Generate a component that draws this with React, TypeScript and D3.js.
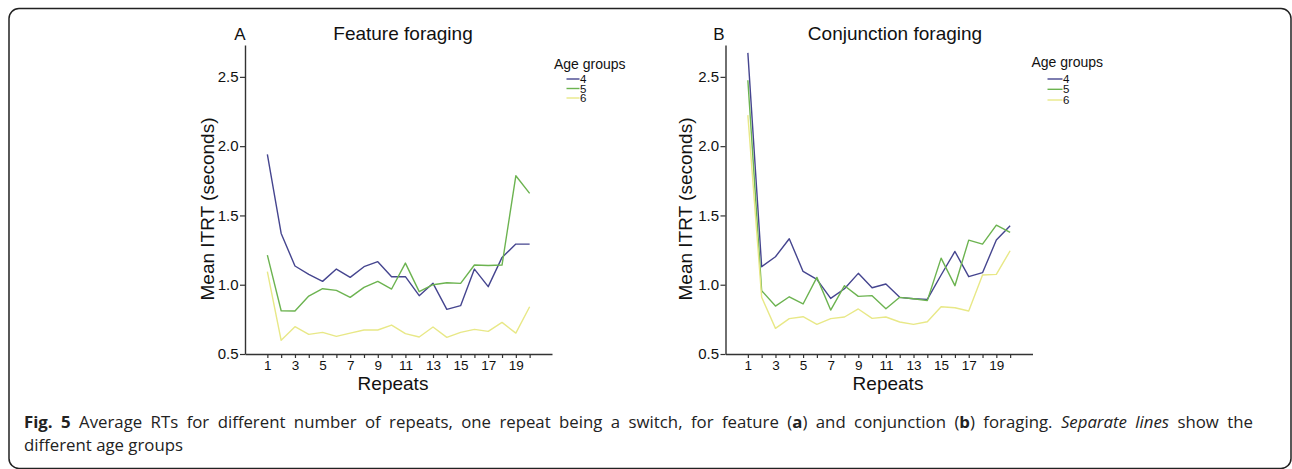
import React, { useRef, useLayoutEffect } from 'react';
import * as d3 from 'd3';

// repeats on the x axis (1..20), odd ones get a label
const repeats = [1, 2, 3, 4, 5, 6, 7, 8, 9, 10, 11, 12, 13, 14, 15, 16, 17, 18, 19, 20];
const xTickLabels = [1, 3, 5, 7, 9, 11, 13, 15, 17, 19];
const yTicks = [0.5, 1.0, 1.5, 2.0, 2.5];
const ageGroups = ['4', '5', '6'];

// mean ITRT (seconds), feature foraging
const featureAge4 = [1.94, 1.37, 1.135, 1.075, 1.024, 1.113, 1.053, 1.13, 1.166, 1.058, 1.058, 0.921, 1.01, 0.822, 0.849, 1.113, 0.986, 1.197, 1.293, 1.293];
const featureAge5 = [1.214, 0.812, 0.81, 0.918, 0.971, 0.959, 0.909, 0.981, 1.024, 0.969, 1.156, 0.95, 1.0, 1.014, 1.01, 1.142, 1.139, 1.142, 1.786, 1.659];
const featureAge6 = [1.094, 0.599, 0.697, 0.642, 0.656, 0.627, 0.651, 0.673, 0.673, 0.709, 0.647, 0.623, 0.695, 0.62, 0.656, 0.678, 0.663, 0.728, 0.651, 0.841];

// mean ITRT (seconds), conjunction foraging
const conjunctionAge4 = [2.673, 1.13, 1.202, 1.332, 1.096, 1.038, 0.901, 0.971, 1.082, 0.978, 1.005, 0.909, 0.899, 0.894, 1.07, 1.24, 1.058, 1.087, 1.322, 1.425];
const conjunctionAge5 = [2.476, 0.957, 0.846, 0.913, 0.861, 1.053, 0.817, 0.993, 0.916, 0.921, 0.827, 0.909, 0.899, 0.885, 1.192, 0.993, 1.322, 1.293, 1.43, 1.377];
const conjunctionAge6 = [2.224, 0.909, 0.685, 0.755, 0.769, 0.714, 0.755, 0.767, 0.825, 0.757, 0.767, 0.731, 0.714, 0.733, 0.841, 0.834, 0.81, 1.07, 1.075, 1.245];

const colors = ['#45458f', '#6cb350', '#e8e887'];
const FONT = '"Liberation Sans", Arial, Helvetica, sans-serif';

const panels = [
    {
        letter: 'A', title: 'Feature foraging', series: [featureAge4, featureAge5, featureAge6],
        left: 245, letterX: 240, titleX: 403, yLabelX: 207, xLabelX: 393,
        legendX: 554, legendY: 69, legendLineX: 566.5, legendLineW: 13, legendRowY: [79, 88.5, 98]
    },
    {
        letter: 'B', title: 'Conjunction foraging', series: [conjunctionAge4, conjunctionAge5, conjunctionAge6],
        left: 725.5, letterX: 719, titleX: 895, yLabelX: 685, xLabelX: 888,
        legendX: 1031.5, legendY: 67, legendLineX: 1047.5, legendLineW: 15, legendRowY: [79, 89.3, 100]
    }
];

const Chart = () => {
    const ref = useRef<SVGSVGElement>(null);

    useLayoutEffect(() => {
        const svg = d3.select(ref.current);
        svg.selectAll('*').remove();

        // page frame (only top/left visible in the crop)
        svg.append('rect')
            .attr('x', 9).attr('y', 8.5)
            .attr('width', 1282).attr('height', 460)
            .attr('rx', 10)
            .attr('fill', 'none')
            .attr('stroke', '#222')
            .attr('stroke-width', 1.5);

        const plotW = 307;
        const top = 45;
        const bottom = 354;

        panels.forEach(p => {
            const g = svg.append('g');

            const x = d3.scaleLinear()
                .domain([-0.62, 21.62])
                .range([p.left, p.left + plotW]);
            const y = d3.scaleLinear()
                .domain([0.5, 2.73])
                .range([bottom, top]);

            // x axis
            const xAxis = g.append('g')
                .attr('transform', 'translate(0,' + bottom + ')')
                .call(d3.axisBottom(x)
                    .tickValues(repeats)
                    .tickFormat((d: any) => xTickLabels.includes(d) ? String(d) : '')
                    .tickSize(4)
                    .tickPadding(2.5)
                    .tickSizeOuter(0));
            xAxis.selectAll('text')
                .style('font-family', FONT)
                .style('font-size', '13.5px')
                .attr('fill', '#111');

            // y axis
            const yAxis = g.append('g')
                .attr('transform', 'translate(' + p.left + ',0)')
                .call(d3.axisLeft(y)
                    .tickValues(yTicks)
                    .tickFormat(d3.format('.1f'))
                    .tickSize(5)
                    .tickPadding(1.5)
                    .tickSizeOuter(0));
            yAxis.selectAll('text')
                .style('font-family', FONT)
                .style('font-size', '15px')
                .attr('fill', '#111');

            [xAxis, yAxis].forEach(a => {
                a.select('.domain').attr('stroke', '#333').attr('stroke-width', 1.4);
                a.selectAll('.tick line').attr('stroke', '#333').attr('stroke-width', 1.2);
            });

            // lines per age group
            const line = d3.line<number>()
                .x((_, i) => x(repeats[i]))
                .y(d => y(d));

            p.series.forEach((s, i) => {
                g.append('path')
                    .datum(s)
                    .attr('fill', 'none')
                    .attr('stroke', colors[i])
                    .attr('stroke-width', 1.4)
                    .attr('stroke-linejoin', 'round')
                    .attr('d', line);
            });

            // panel letter and title
            g.append('text')
                .attr('x', p.letterX).attr('y', 40)
                .attr('text-anchor', 'middle')
                .style('font-family', FONT).style('font-size', '17px')
                .attr('fill', '#111')
                .text(p.letter);
            g.append('text')
                .attr('x', p.titleX).attr('y', 40)
                .attr('text-anchor', 'middle')
                .style('font-family', FONT).style('font-size', '19px')
                .attr('fill', '#111')
                .text(p.title);

            // axis labels
            g.append('text')
                .attr('transform', 'translate(' + p.yLabelX + ',' + 209 + ') rotate(-90)')
                .attr('text-anchor', 'middle')
                .attr('dominant-baseline', 'central')
                .style('font-family', FONT).style('font-size', '19px')
                .attr('fill', '#111')
                .text('Mean ITRT (seconds)');
            g.append('text')
                .attr('x', p.xLabelX).attr('y', 390)
                .attr('text-anchor', 'middle')
                .style('font-family', FONT).style('font-size', '19px')
                .attr('fill', '#111')
                .text('Repeats');

            // legend
            g.append('text')
                .attr('x', p.legendX).attr('y', p.legendY)
                .style('font-family', FONT).style('font-size', '14px')
                .attr('fill', '#111')
                .text('Age groups');
            ageGroups.forEach((a, i) => {
                g.append('line')
                    .attr('x1', p.legendLineX).attr('x2', p.legendLineX + p.legendLineW)
                    .attr('y1', p.legendRowY[i]).attr('y2', p.legendRowY[i])
                    .attr('stroke', colors[i]).attr('stroke-width', 1.4);
                g.append('text')
                    .attr('x', p.legendLineX + p.legendLineW + 0.5).attr('y', p.legendRowY[i])
                    .attr('dominant-baseline', 'central')
                    .style('font-family', FONT).style('font-size', '11.5px')
                    .attr('fill', '#111')
                    .text(a);
            });
        });

        // caption, first line justified to the full width
        const cap = svg.append('g')
            .style('font-family', '"Open Sans", sans-serif')
            .style('font-size', '16.8px')
            .attr('fill', '#222');
        const line1 = cap.append('text').attr('x', 24).attr('y', 428);
        line1.append('tspan').attr('font-weight', 'bold').text('Fig. 5');
        line1.append('tspan').text(' Average RTs for different number of repeats, one repeat being a switch, for feature (');
        line1.append('tspan').attr('font-weight', 'bold').text('a');
        line1.append('tspan').text(') and conjunction (');
        line1.append('tspan').attr('font-weight', 'bold').text('b');
        line1.append('tspan').text(') foraging. ');
        line1.append('tspan').attr('font-style', 'italic').text('Separate lines');
        line1.append('tspan').text(' show the');
        const node = line1.node() as SVGTextElement;
        const natural = node.getComputedTextLength();
        const spaces = (node.textContent || '').split(' ').length - 1;
        const extra = (1253 - 24 - natural) / spaces;
        if (extra > -3 && extra < 10) line1.style('word-spacing', extra + 'px');
        cap.append('text').attr('x', 24).attr('y', 451).text('different age groups');
    }, []);

    return (
        <svg ref={ref} width={1292} height={469}
            style={{ position: 'absolute', left: 0, top: 0, background: '#fff' }} />
    );
};

export default function App() {
    return <Chart />;
}
